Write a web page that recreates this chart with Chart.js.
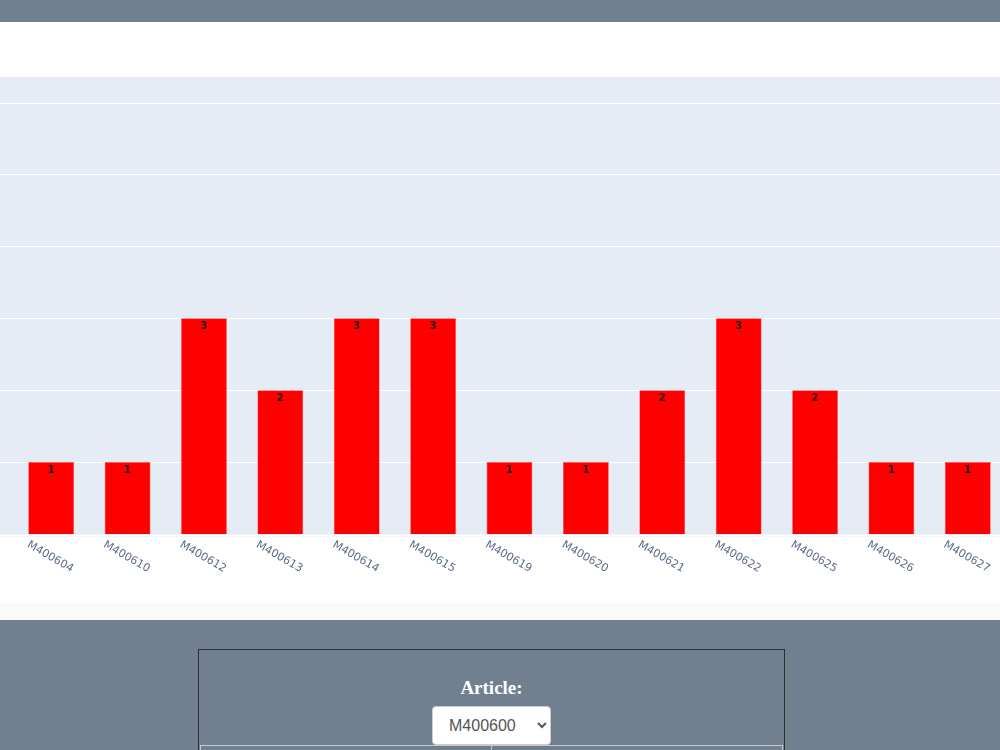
<!DOCTYPE html>
<html>
<head>
<meta charset="utf-8">
<script src="https://cdn.jsdelivr.net/npm/chart.js@4.4.1/dist/chart.umd.min.js"></script>
<style>
  html, body { margin: 0; padding: 0; }
  body { width: 1000px; height: 750px; overflow: hidden; background: #708090; position: relative; font-family: "Liberation Sans", Arial, sans-serif; }
  #plot { position: absolute; left: 0; top: 22px; width: 1000px; height: 581px; background: #fff; overflow: hidden; }
  #plot canvas { position: absolute; left: 0; top: 0; }
  #strip { position: absolute; left: 0; top: 603px; width: 1000px; height: 17px; background: #fafafa; }
  #panel { position: absolute; left: 198px; top: 649px; width: 585px; height: 200px; border: 1px solid #2e2e2e; }
  #panel .title { position: absolute; left: 0; width: 100%; top: 27px; text-align: center; color: #fff; font: bold 19px "Liberation Serif", "Times New Roman", serif; }
  #panel select { position: absolute; left: 233px; top: 56px; width: 119px; height: 39px; font: 16px "Liberation Sans", Arial, sans-serif; color: #555; background: #fff; border: 1px solid #ccc; border-radius: 4px; padding: 0 0 0 12px; }
  #panel table { position: absolute; left: 1px; top: 95px; width: 583px; border-collapse: collapse; }
  #panel td { border: 1px solid #c8c8c8; height: 30px; width: 50%; }
</style>
</head>
<body>
<div id="plot"><canvas id="articleChart" width="1010" height="581"></canvas></div>
<div id="strip"></div>
<div id="panel">
  <div class="title">Article:</div>
  <select><option>M400600</option></select>
  <table><tr><td></td><td></td></tr></table>
</div>
<script>
// chart data
const articles = ['M400604', 'M400610', 'M400612', 'M400613', 'M400614', 'M400615', 'M400619',
                  'M400620', 'M400621', 'M400622', 'M400625', 'M400626', 'M400627'];
const counts = [1, 1, 3, 2, 3, 3, 1, 1, 2, 3, 2, 1, 1];
const yTicks = [0, 1, 2, 3, 4, 5, 6];

// plot background + white grid across the full width
const plotBackground = {
    id: 'plotBackground',
    beforeDraw(chart) {
        const { ctx, chartArea } = chart;
        const y = chart.scales.y;
        ctx.save();
        ctx.fillStyle = '#e5ecf6';
        ctx.fillRect(0, chartArea.top, chart.width, chartArea.bottom - chartArea.top + 3);
        ctx.strokeStyle = '#ffffff';
        yTicks.forEach(v => {
            const py = y.getPixelForValue(v);
            ctx.lineWidth = v === 0 ? 2 : 1;
            ctx.beginPath();
            ctx.moveTo(0, v === 0 ? py + 1.5 : Math.round(py) + 0.5);
            ctx.lineTo(chart.width, v === 0 ? py + 1.5 : Math.round(py) + 0.5);
            ctx.stroke();
        });
        ctx.restore();
    }
};

// value on top of each bar and slanted category labels
const barText = {
    id: 'barText',
    afterDatasetsDraw(chart) {
        const { ctx, chartArea } = chart;
        const x = chart.scales.x;
        const meta = chart.getDatasetMeta(0);
        ctx.save();
        ctx.fillStyle = '#1e1e1e';
        ctx.font = 'bold 10px "DejaVu Sans", Verdana, sans-serif';
        ctx.textAlign = 'center';
        ctx.textBaseline = 'middle';
        meta.data.forEach((bar, i) => {
            ctx.fillText(String(counts[i]), bar.x, bar.y + 8);
        });

        ctx.fillStyle = '#5b6b88';
        ctx.font = '11px "DejaVu Sans", Verdana, sans-serif';
        articles.forEach((name, i) => {
            ctx.save();
            ctx.translate(x.getPixelForValue(i) - 1, chartArea.bottom + 23);
            ctx.rotate(Math.PI / 6);
            ctx.fillText(name, 0, 0);
            ctx.restore();
        });
        ctx.restore();
    }
};

const ctx = document.getElementById('articleChart').getContext('2d');
const articleChart = new Chart(ctx, {
    type: 'bar',
    data: {
        labels: articles,
        datasets: [{
            data: counts,
            backgroundColor: '#ff0000',
            borderColor: '#ff4d4d',
            borderWidth: 0.6,
            barPercentage: 0.6,
            categoryPercentage: 1
        }]
    },
    options: {
        responsive: false,
        animation: false,
        layout: { padding: { left: 13, right: 4, top: 55, bottom: 69 } },
        plugins: {
            legend: { display: false },
            tooltip: { enabled: false }
        },
        scales: {
            x: { display: false },
            y: { display: false, min: 0, max: 6.356 }
        }
    },
    plugins: [plotBackground, barText]
});
</script>
</body>
</html>
